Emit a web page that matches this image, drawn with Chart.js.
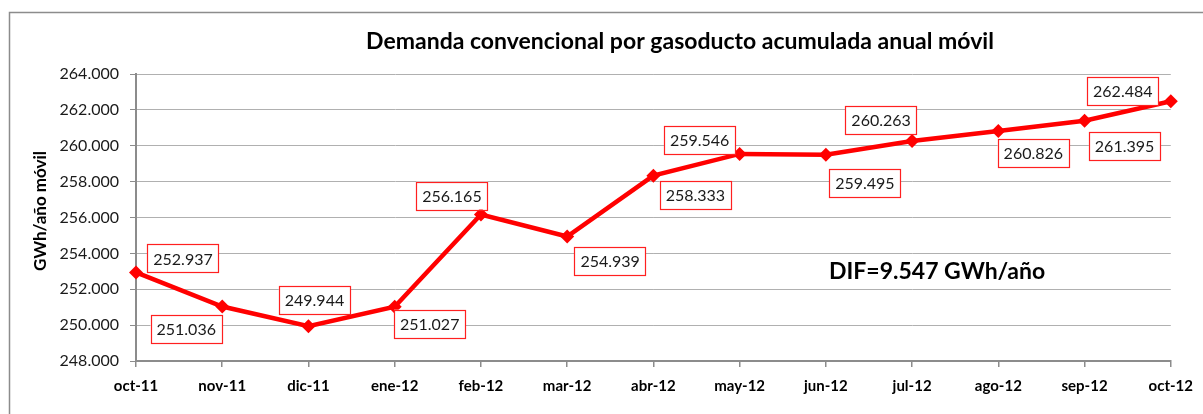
<!DOCTYPE html>
<html>
<head>
<meta charset="utf-8">
<script src="https://cdn.jsdelivr.net/npm/chart.js@4/dist/chart.umd.min.js"></script>
<style>
  html, body { margin: 0; padding: 0; background: #fff; }
  #wrap { position: relative; width: 1203px; height: 414px; }
</style>
</head>
<body>
<div id="wrap"><canvas id="chart" width="1203" height="414"></canvas></div>
<script>
const months = ['oct-11', 'nov-11', 'dic-11', 'ene-12', 'feb-12', 'mar-12', 'abr-12',
  'may-12', 'jun-12', 'jul-12', 'ago-12', 'sep-12', 'oct-12'];
const demand = [252937, 251036, 249944, 251027, 256165, 254939, 258333,
  259546, 259495, 260263, 260826, 261395, 262484];
const yTicks = [248000, 250000, 252000, 254000, 256000, 258000, 260000, 262000, 264000];
// where each value box sits relative to its point (px)
const labelOffsets = [[47, -14], [-36, 22], [6, -26], [35, 17], [-29, -19], [43, 24], [42, 19],
  [-40, -14], [39, 28], [-31, -21], [35, 22], [40, 25], [-48, -10]];

const chartTitle = 'Demanda convencional por gasoducto acumulada anual móvil';
const yTitle = 'GWh/año móvil';
const difText = 'DIF=9.547 GWh/año';

const FONT = 'Lato, "Open Sans", sans-serif';

function fmt(v) {
  const s = String(Math.round(v));
  return s.replace(/\B(?=(\d{3})+(?!\d))/g, '.');
}

const decorPlugin = {
  id: 'decor',
  beforeDraw(chart) {
    const ctx = chart.ctx;
    ctx.save();
    ctx.strokeStyle = '#8c8c8c';
    ctx.lineWidth = 1.5;
    ctx.strokeRect(9.5, 12.5, 1400, 600);
    ctx.restore();
  },
  afterDraw(chart) {
    const ctx = chart.ctx;
    ctx.save();
    ctx.fillStyle = '#000';
    ctx.textAlign = 'center';
    ctx.textBaseline = 'middle';
    ctx.font = 'bold 23px ' + FONT;
    ctx.fillText(chartTitle, 680, 42);

    ctx.save();
    ctx.translate(41, 211);
    ctx.rotate(-Math.PI / 2);
    ctx.font = 'bold 17px ' + FONT;
    ctx.fillText(yTitle, 0, 0);
    ctx.restore();

    ctx.textAlign = 'left';
    ctx.font = 'bold 23px ' + FONT;
    ctx.fillText(difText, 829, 272);
    ctx.restore();
  },
  afterDatasetsDraw(chart) {
    const ctx = chart.ctx;
    const meta = chart.getDatasetMeta(0);
    ctx.save();
    ctx.font = '16px ' + FONT;
    ctx.textAlign = 'center';
    ctx.textBaseline = 'middle';
    meta.data.forEach(function (pt, i) {
      const txt = fmt(demand[i]);
      const w = ctx.measureText(txt).width + 12;
      const h = 28;
      const cx = pt.x + labelOffsets[i][0];
      const cy = pt.y + labelOffsets[i][1];
      ctx.fillStyle = '#fff';
      ctx.fillRect(cx - w / 2, cy - h / 2, w, h);
      ctx.strokeStyle = '#ff2020';
      ctx.lineWidth = 1.2;
      ctx.strokeRect(Math.round(cx - w / 2) + 0.5, Math.round(cy - h / 2) + 0.5, Math.round(w), h);
      ctx.fillStyle = '#1a1a1a';
      ctx.fillText(txt, cx, cy + 1);
    });
    ctx.restore();
  }
};

new Chart(document.getElementById('chart'), {
  type: 'line',
  data: {
    labels: months,
    datasets: [{
      data: demand,
      borderColor: '#ff0000',
      backgroundColor: '#ff0000',
      borderWidth: 4.5,
      pointStyle: 'rectRot',
      pointRadius: 7,
      pointBorderWidth: 0,
      tension: 0,
      clip: false
    }]
  },
  options: {
    responsive: false,
    animation: false,
    events: [],
    layout: { padding: { top: 74, right: 31, bottom: 0, left: 0 } },
    plugins: {
      legend: { display: false },
      tooltip: { enabled: false }
    },
    scales: {
      x: {
        offset: false,
        afterFit(scale) { scale.height = 53; },
        border: { color: '#8c8c8c', width: 2 },
        grid: { display: true, drawOnChartArea: false, drawTicks: true, tickLength: 6, color: '#8c8c8c', lineWidth: 1.5 },
        ticks: {
          color: '#000',
          padding: 10,
          maxRotation: 0,
          autoSkip: false,
          font: { family: FONT, size: 15, weight: 'bold' }
        }
      },
      y: {
        min: 248000,
        max: 264000,
        afterFit(scale) { scale.width = 136; },
        afterBuildTicks(scale) { scale.ticks = yTicks.map(function (v) { return { value: v }; }); },
        border: { color: '#8c8c8c', width: 2 },
        grid: {
          color: '#b0b0b0',
          lineWidth: 1,
          borderDash: [1, 2],
          tickLength: 6,
          tickColor: '#8c8c8c',
          tickBorderDash: []
        },
        ticks: {
          color: '#1a1a1a',
          padding: 11,
          font: { family: FONT, size: 16 },
          callback: function (v) { return fmt(v); }
        }
      }
    }
  },
  plugins: [decorPlugin]
});
</script>
</body>
</html>
